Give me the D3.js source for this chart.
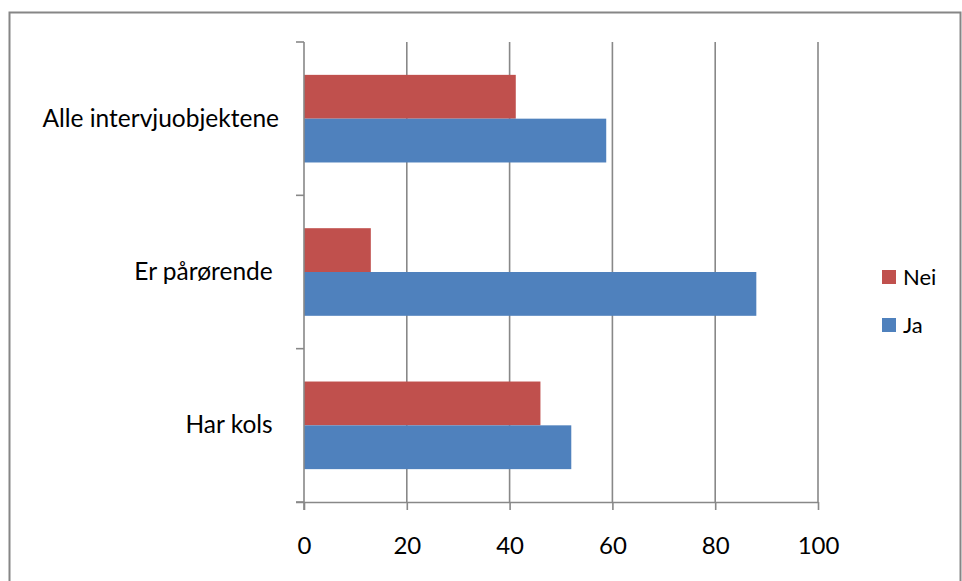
<!DOCTYPE html>
<html>
<head>
<meta charset="utf-8">
<script src="https://cdn.jsdelivr.net/npm/d3@7"></script>
<style>
  html, body { margin: 0; padding: 0; background: #fff; }
  svg { display: block; }
  text { font-family: Lato, "Open Sans", sans-serif; fill: #000; }
</style>
</head>
<body>
<svg id="chart" width="962" height="581"></svg>
<script>
// Categories (top to bottom) and the two answer series, in percent
const categories = ["Alle intervjuobjektene", "Er pårørende ", "Har kols "];
const seriesNames = ["Nei", "Ja"];
const neiValues = [41.2, 13, 46];
const jaValues = [58.8, 88, 52];
const xTicks = [0, 20, 40, 60, 80, 100];
const colors = { Nei: "#C0504D", Ja: "#4F81BD" };

const svg = d3.select("#chart");
const plot = { left: 304, right: 818, top: 42, bottom: 502 };
const gridColor = "#888888";

// chart-area frame
svg.append("rect")
  .attr("x", 9.5).attr("y", 12.5)
  .attr("width", 951).attr("height", 620)
  .attr("fill", "none").attr("stroke", "#868686").attr("stroke-width", 2);

const x = d3.scaleLinear().domain([0, 100]).range([plot.left, plot.right]);
const y = d3.scaleBand().domain(categories).range([plot.top, plot.bottom]).padding(0);
const ySub = d3.scaleBand().domain(seriesNames).range([0, y.bandwidth()])
  .paddingInner(0).paddingOuter(0.75);

// vertical gridlines
svg.append("g").selectAll("line")
  .data(xTicks.filter(t => t > 0))
  .join("line")
  .attr("x1", d => x(d)).attr("x2", d => x(d))
  .attr("y1", plot.top).attr("y2", plot.bottom)
  .attr("stroke", gridColor).attr("stroke-width", 1.6);

// bars
const rows = categories.map((c, i) => ({ cat: c, Nei: neiValues[i], Ja: jaValues[i] }));
svg.append("g").selectAll("g")
  .data(rows)
  .join("g")
  .attr("transform", d => `translate(0,${y(d.cat)})`)
  .selectAll("rect")
  .data(d => seriesNames.map(s => ({ s, v: d[s] })))
  .join("rect")
  .attr("x", x(0))
  .attr("y", d => ySub(d.s))
  .attr("width", d => x(d.v) - x(0))
  .attr("height", ySub.bandwidth())
  .attr("fill", d => colors[d.s]);

// x axis
const xAxis = svg.append("g")
  .attr("transform", `translate(0,${plot.bottom})`)
  .call(d3.axisBottom(x).tickValues(xTicks).tickSize(8).tickPadding(27).tickSizeOuter(0));
xAxis.select(".domain").attr("stroke", gridColor).attr("stroke-width", 1.6)
  .attr("d", `M${plot.left - 8},0.5H${plot.right}`);
xAxis.selectAll(".tick line").attr("stroke", gridColor).attr("stroke-width", 1.6);
xAxis.selectAll(".tick text").attr("font-size", 24).attr("font-family", "Lato").attr("fill", "#000");

// y axis: ticks sit on category boundaries
const yAxisG = svg.append("g");
yAxisG.append("line")
  .attr("x1", plot.left).attr("x2", plot.left)
  .attr("y1", plot.top).attr("y2", plot.bottom + 8)
  .attr("stroke", gridColor).attr("stroke-width", 1.6);
const bounds = categories.map(c => y(c)).concat([plot.bottom]);
yAxisG.selectAll("line.tk")
  .data(bounds)
  .join("line").attr("class", "tk")
  .attr("x1", plot.left - 8).attr("x2", plot.left)
  .attr("y1", d => d).attr("y2", d => d)
  .attr("stroke", gridColor).attr("stroke-width", 1.6);
yAxisG.selectAll("text")
  .data(categories)
  .join("text")
  .attr("x", 279)
  .attr("y", d => y(d) + y.bandwidth() / 2 + 8)
  .attr("text-anchor", "end")
  .attr("font-size", 24.5)
  .style("white-space", "pre")
  .text(d => d);

// legend
const legend = svg.append("g").attr("transform", "translate(882,270)");
const li = legend.selectAll("g")
  .data(seriesNames)
  .join("g")
  .attr("transform", (d, i) => `translate(0,${i * 48})`);
li.append("rect").attr("width", 14).attr("height", 14).attr("fill", d => colors[d]);
li.append("text").attr("x", 21).attr("y", 15).attr("font-size", 22).text(d => d);
</script>
</body>
</html>
